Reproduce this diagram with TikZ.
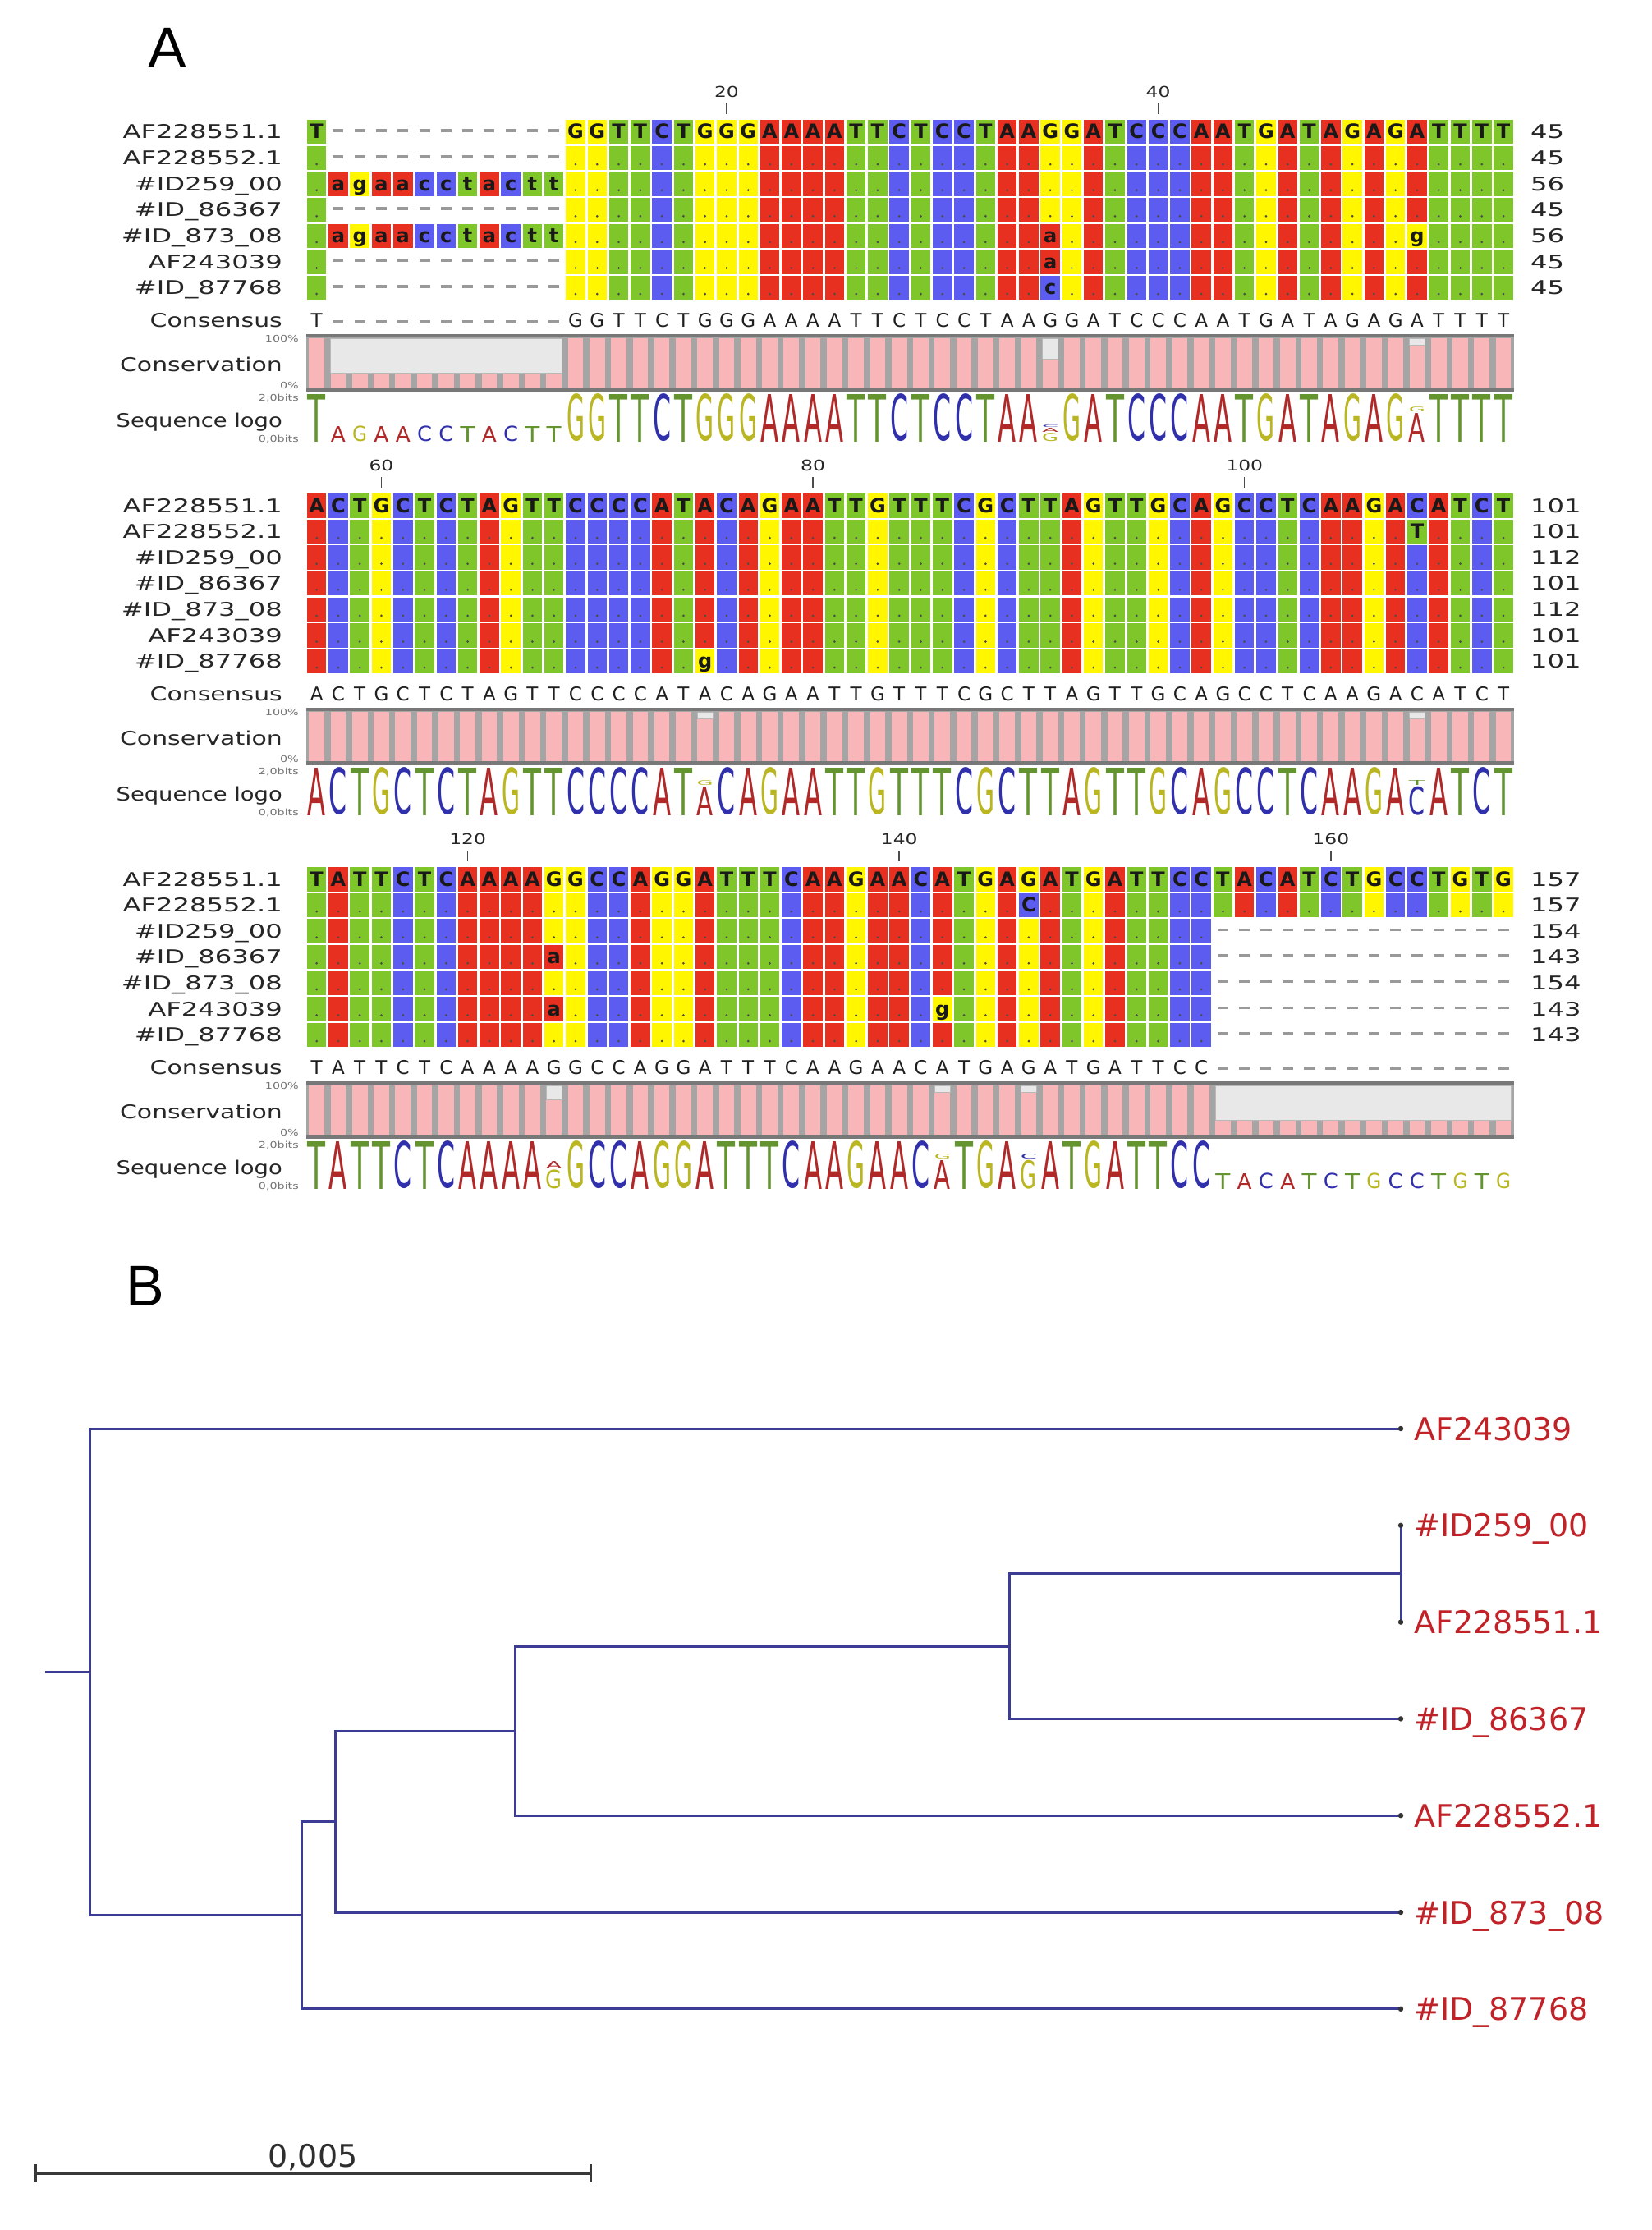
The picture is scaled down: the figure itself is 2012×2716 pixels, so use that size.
\documentclass[tikz,border=0pt]{standalone}
\usepackage{fontspec}
\setmainfont{DejaVu Sans}
\newfontfamily\panelfont{Liberation Sans}
\usepackage{xstring}
\usepackage{graphicx}
\ExplSyntaxOn
\cs_new:Npn \myrep #1#2 { \prg_replicate:nn {#1} {#2} }
\ExplSyntaxOff
% cell colours
\definecolor{cA}{RGB}{232,48,32}
\definecolor{cC}{RGB}{92,92,240}
\definecolor{cG}{RGB}{255,246,0}
\definecolor{cT}{RGB}{126,198,42}
\colorlet{ca}{cA}\colorlet{cc}{cC}\colorlet{cg}{cG}\colorlet{ct}{cT}
% logo colours
\definecolor{lA}{RGB}{176,40,40}
\definecolor{lC}{RGB}{48,48,172}
\definecolor{lG}{RGB}{186,182,34}
\definecolor{lT}{RGB}{100,148,48}
\colorlet{la}{lA}\colorlet{lc}{lC}\colorlet{lg}{lG}\colorlet{lt}{lT}
\definecolor{treeblue}{RGB}{60,60,148}
\definecolor{leafred}{RGB}{192,34,40}
\definecolor{conspink}{RGB}{248,182,185}
\definecolor{consgray}{RGB}{165,165,165}
\definecolor{consdark}{RGB}{120,120,120}
\definecolor{consempty}{RGB}{232,232,232}
\definecolor{txt}{RGB}{38,38,38}
\newcommand\wide[1]{\scalebox{1.3}[1]{#1}}
\newcommand\wider[1]{\scalebox{1.4}[1]{#1}}
% sequences
\edef\refA{T\myrep{11}{-}GGTTCTGGGAAAATTCTCCTAAGGATCCCAATGATAGAGATTTT}
\edef\rAb{.\myrep{11}{-}\myrep{44}{.}}
\edef\rAc{.agaacctactt\myrep{44}{.}}
\edef\rAe{.agaacctactt\myrep{22}{.}a\myrep{16}{.}g\myrep{4}{.}}
\edef\rAf{.\myrep{11}{-}\myrep{22}{.}a\myrep{21}{.}}
\edef\rAg{.\myrep{11}{-}\myrep{22}{.}c\myrep{21}{.}}
\def\refB{ACTGCTCTAGTTCCCCATACAGAATTGTTTCGCTTAGTTGCAGCCTCAAGACATCT}
\edef\rBb{\myrep{51}{.}T\myrep{4}{.}}
\edef\rBd{\myrep{56}{.}}
\edef\rBg{\myrep{18}{.}g\myrep{37}{.}}
\def\refC{TATTCTCAAAAGGCCAGGATTTCAAGAACATGAGATGATTCCTACATCTGCCTGTG}
\edef\rCb{\myrep{33}{.}C\myrep{22}{.}}
\edef\rCc{\myrep{42}{.}\myrep{14}{-}}
\edef\rCd{\myrep{11}{.}a\myrep{30}{.}\myrep{14}{-}}
\edef\rCf{\myrep{11}{.}a\myrep{17}{.}g\myrep{12}{.}\myrep{14}{-}}
\edef\conC{TATTCTCAAAAGGCCAGGATTTCAAGAACATGAGATGATTCC\myrep{14}{-}}
\def\logoA{TagaacctacttGGTTCTGGGAAAATTCTCCTAA*GATCCCAATGATAGAG*TTTT}
\def\logoB{ACTGCTCTAGTTCCCCAT*CAGAATTGTTTCGCTTAGTTGCAGCCTCAAGA*ATCT}
\def\logoC{TATTCTCAAAA*GCCAGGATTTCAAGAAC*TGA*ATGATTCCtacatctgcctgtg}
\tikzset{
  gapdash/.style={fill=black!40},
  dotc/.style={fill=black!70},
  cellletter/.style={anchor=base, inner sep=0pt, font=\bfseries\fontsize{24}{24}\selectfont, text=black!90},
  consletter/.style={anchor=base, inner sep=0pt, font=\fontsize{23}{23}\selectfont, text=black!88},
  lbl/.style={anchor=base east, inner sep=0pt, font=\fontsize{23}{23}\selectfont, text=txt},
  numlbl/.style={anchor=base west, inner sep=0pt, font=\fontsize{23}{23}\selectfont, text=txt},
  rulenum/.style={anchor=base, inner sep=0pt, font=\fontsize{18}{18}\selectfont, text=txt},
  ruletick/.style={draw=black!70, line width=1.5pt},
  tinylbl/.style={anchor=base east, inner sep=0pt, font=\fontsize{11}{11}\selectfont, text=black!55},
  logoletter/.style={anchor=south, inner sep=0pt, outer sep=0pt, font=\fontsize{20}{20}\selectfont},
  treeline/.style={draw=treeblue, line width=3pt},
  leaflbl/.style={anchor=base west, inner sep=0pt, font=\fontsize{38}{38}\selectfont, text=leafred},
  panellbl/.style={anchor=base, inner sep=0pt, font=\panelfont\fontsize{70}{70}\selectfont, text=black},
  scalebar/.style={draw=black!78, line width=3.5pt},
  emptybox/.style={fill=consempty, draw=black!28, line width=1pt}
}
% one alignment row: #1 top y, #2 reference, #3 row, #4 label, #5 count
\newcommand\alnrow[5]{%
  \foreach \i in {1,...,56}{%
    \StrChar{#2}{\i}[\fc]%
    \StrChar{#3}{\i}[\rc]%
    \pgfmathsetmacro\xl{372.5+(\i-1)*26.28}%
    \if\rc-%
      \fill[gapdash] ({\xl+6.6},{#1+12.5}) rectangle ({\xl+19.7},{#1+16});%
    \else\if\rc.%
      \edef\mycol{c\fc}%
      \fill[fill=\mycol] ({\xl+1.4},{#1+1.1}) rectangle ({\xl+24.9},{#1+30.5});%
      \fill[dotc] ({\xl+13.14},{#1+23.5}) circle (1.5);%
    \else
      \edef\mycol{c\rc}%
      \fill[fill=\mycol] ({\xl+1.4},{#1+1.1}) rectangle ({\xl+24.9},{#1+30.5});%
      \node[cellletter] at ({\xl+13.14},{#1+24}) {\rc};%
    \fi\fi
  }%
  \node[lbl] at (344,{#1+24}) {\wider{#4}};%
  \node[numlbl] at (1864,{#1+24}) {\wider{#5}};%
}
\newcommand\consrow[2]{%
  \foreach \i in {1,...,56}{%
    \StrChar{#2}{\i}[\rc]%
    \pgfmathsetmacro\xc{372.5+(\i-0.5)*26.28}%
    \if\rc-%
      \fill[gapdash] ({\xc-6.5},{#1+389.5}) rectangle ({\xc+6.5},{#1+393});%
    \else
      \node[consletter] at (\xc,{#1+398.5}) {\rc};%
    \fi
  }%
}
\newcommand\consbox[2]{%
  \fill[consgray] (372.5,{#1+408}) rectangle (1844,{#1+476});%
  \foreach \i in {1,...,56}{%
    \pgfmathsetmacro\xl{372.5+(\i-1)*26.28}%
    \fill[conspink] ({\xl+3.8},{#1+412}) rectangle ({\xl+22.5},{#1+472});%
  }%
  \foreach \ccol/\fr in {#2}{%
    \pgfmathsetmacro\xl{372.5+(\ccol-1)*26.28}%
    \pgfmathsetmacro\yt{#1+472-\fr/7*60}%
    \filldraw[emptybox] ({\xl+3.8},{#1+412}) rectangle ({\xl+22.5},\yt);%
  }%
  \fill[consdark] (372.5,{#1+406.5}) rectangle (1844,{#1+411});%
  \fill[consdark] (372.5,{#1+472}) rectangle (1844,{#1+476.5});%
}
\newcommand\consrun[3]{%
  \filldraw[emptybox] ({372.5+(#2-1)*26.28+3.8},{#1+412}) rectangle ({372.5+#3*26.28-3.8},{#1+472-2/7*60});%
}
\newcommand\logorow[2]{%
  \foreach \i in {1,...,56}{%
    \StrChar{#2}{\i}[\rc]%
    \pgfmathsetmacro\xc{372.5+(\i-0.5)*26.28}%
    \if\rc*\else
      \edef\mycol{l\rc}%
      \ifnum\expandafter`\rc>96\relax
        \node[logoletter,text=\mycol] at (\xc,{#1+538}) {\resizebox*{18pt}{19pt}{\expandafter\uppercase\expandafter{\rc}}};%
      \else
        \node[logoletter,text=\mycol] at (\xc,{#1+538}) {\resizebox*{22pt}{58pt}{\rc}};%
      \fi
    \fi
  }%
}
\newcommand\stackcol[3]{%
  \pgfmathsetmacro\xc{372.5+(#2-0.5)*26.28}%
  \pgfmathsetmacro\yy{#1+538}\xdef\yy{\yy}%
  \foreach \lett/\hh in {#3}{%
    \edef\mycol{l\lett}%
    \node[logoletter,text=\mycol] at (\xc,\yy) {\resizebox*{20pt}{\hh pt}{\lett}};%
    \pgfmathsetmacro\yy{\yy-\hh-1.2}\xdef\yy{\yy}%
  }%
}
\newcommand\rulemark[3]{%
  \pgfmathsetmacro\xc{372.5+(#2-0.5)*26.28}%
  \node[rulenum] at (\xc,{#1+118.5}) {\wide{#3}};%
  \draw[ruletick] (\xc,{#1+126}) -- (\xc,{#1+139});%
}
\newcommand\sidelabels[1]{%
  \node[lbl] at (344,{#1+398.5}) {\wide{Consensus}};%
  \node[lbl] at (344,{#1+452}) {\wide{Conservation}};%
  \node[lbl] at (344,{#1+520}) {\scalebox{1.19}[1]{Sequence logo}};%
  \node[tinylbl] at (364,{#1+416}) {\wide{100\%}};%
  \node[tinylbl] at (364,{#1+473}) {\wide{0\%}};%
  \node[tinylbl] at (364,{#1+488}) {\wide{2,0bits}};%
  \node[tinylbl] at (364,{#1+538}) {\wide{0,0bits}};%
}
\begin{document}
\begin{tikzpicture}[x=1pt,y=-1pt]
\useasboundingbox (0,0) rectangle (2012,2716);
\fill[white] (0,0) rectangle (2012,2716);
\node[panellbl] (pA) at (203.5,83) {A};
% ---------- block 1
\rulemark{0}{20}{20}\rulemark{0}{40}{40}
\alnrow{145}{\refA}{\refA}{AF228551.1}{45}
\alnrow{176.6}{\refA}{\rAb}{AF228552.1}{45}
\alnrow{208.2}{\refA}{\rAc}{\#ID259\_00}{56}
\alnrow{239.8}{\refA}{\rAb}{\#ID\_86367}{45}
\alnrow{271.4}{\refA}{\rAe}{\#ID\_873\_08}{56}
\alnrow{303}{\refA}{\rAf}{AF243039}{45}
\alnrow{334.6}{\refA}{\rAg}{\#ID\_87768}{45}
\consrow{0}{\refA}
\consbox{0}{35/4,52/6}
\consrun{0}{2}{12}
\logorow{0}{\logoA}
\stackcol{0}{35}{G/10,A/5,C/3}
\stackcol{0}{52}{A/35,G/6}
\sidelabels{0}
% ---------- block 2
\rulemark{455}{4}{60}\rulemark{455}{24}{80}\rulemark{455}{44}{100}
\alnrow{600}{\refB}{\refB}{AF228551.1}{101}
\alnrow{631.6}{\refB}{\rBb}{AF228552.1}{101}
\alnrow{663.2}{\refB}{\rBd}{\#ID259\_00}{112}
\alnrow{694.8}{\refB}{\rBd}{\#ID\_86367}{101}
\alnrow{726.4}{\refB}{\rBd}{\#ID\_873\_08}{112}
\alnrow{758}{\refB}{\rBd}{AF243039}{101}
\alnrow{789.6}{\refB}{\rBg}{\#ID\_87768}{101}
\consrow{455}{\refB}
\consbox{455}{19/6,52/6}
\logorow{455}{\logoB}
\stackcol{455}{19}{A/35,G/6}
\stackcol{455}{52}{C/35,T/6}
\sidelabels{455}
% ---------- block 3
\rulemark{910}{8}{120}\rulemark{910}{28}{140}\rulemark{910}{48}{160}
\alnrow{1055}{\refC}{\refC}{AF228551.1}{157}
\alnrow{1086.6}{\refC}{\rCb}{AF228552.1}{157}
\alnrow{1118.2}{\refC}{\rCc}{\#ID259\_00}{154}
\alnrow{1149.8}{\refC}{\rCd}{\#ID\_86367}{143}
\alnrow{1181.4}{\refC}{\rCc}{\#ID\_873\_08}{154}
\alnrow{1213}{\refC}{\rCf}{AF243039}{143}
\alnrow{1244.6}{\refC}{\rCc}{\#ID\_87768}{143}
\consrow{910}{\conC}
\consbox{910}{12/5,30/6,34/6}
\consrun{910}{43}{56}
\logorow{910}{\logoC}
\stackcol{910}{12}{G/23,A/9}
\stackcol{910}{30}{A/35,G/6}
\stackcol{910}{34}{G/35,C/6}
\sidelabels{910}
% ---------- panel B : tree
\node[panellbl] (pB) at (177,1590) {B};
\coordinate (L1) at (1706,1740);
\coordinate (L2) at (1706,1857.8);
\coordinate (L3) at (1706,1975.6);
\coordinate (L4) at (1706,2093.4);
\coordinate (L5) at (1706,2211.2);
\coordinate (L6) at (1706,2329);
\coordinate (L7) at (1706,2446.8);
\coordinate (n5) at (1706,1916.7);
\coordinate (n4) at (1229,2005);
\coordinate (n3) at (627,2108.1);
\coordinate (n2) at (408,2218.6);
\coordinate (n1) at (367,2332.7);
\coordinate (rt) at (109,2036.4);
\coordinate (st) at (55,2036.4);
\draw[treeline] (st) -- (rt);
\draw[treeline] (rt) |- (L1);
\draw[treeline] (rt) |- (n1);
\draw[treeline] (n1) |- (n2);
\draw[treeline] (n1) |- (L7);
\draw[treeline] (n2) |- (n3);
\draw[treeline] (n2) |- (L6);
\draw[treeline] (n3) |- (n4);
\draw[treeline] (n3) |- (L5);
\draw[treeline] (n4) |- (n5);
\draw[treeline] (n4) |- (L4);
\draw[treeline] (n5) |- (L2);
\draw[treeline] (n5) |- (L3);
\foreach \k in {1,...,7}{\fill[black!80] (L\k) circle (3.2);}
\node[leaflbl] (t1) at (1722,1754) {AF243039};
\node[leaflbl] (t2) at (1722,1871.8) {\#ID259\_00};
\node[leaflbl] (t3) at (1722,1989.6) {AF228551.1};
\node[leaflbl] (t4) at (1722,2107.4) {\#ID\_86367};
\node[leaflbl] (t5) at (1722,2225.2) {AF228552.1};
\node[leaflbl] (t6) at (1722,2343) {\#ID\_873\_08};
\node[leaflbl] (t7) at (1722,2460.8) {\#ID\_87768};
% scale bar
\coordinate (sb1) at (43,2647);
\coordinate (sb2) at (719,2647);
\draw[scalebar] (sb1) -- (sb2);
\draw[scalebar, line width=3pt] (43,2636) -- (43,2658);
\draw[scalebar, line width=3pt] (719,2636) -- (719,2658);
\node[anchor=base, inner sep=0pt, font=\fontsize{38}{38}\selectfont, text=black!82] (sbl) at (381,2639) {0,005};
\end{tikzpicture}
\end{document}
